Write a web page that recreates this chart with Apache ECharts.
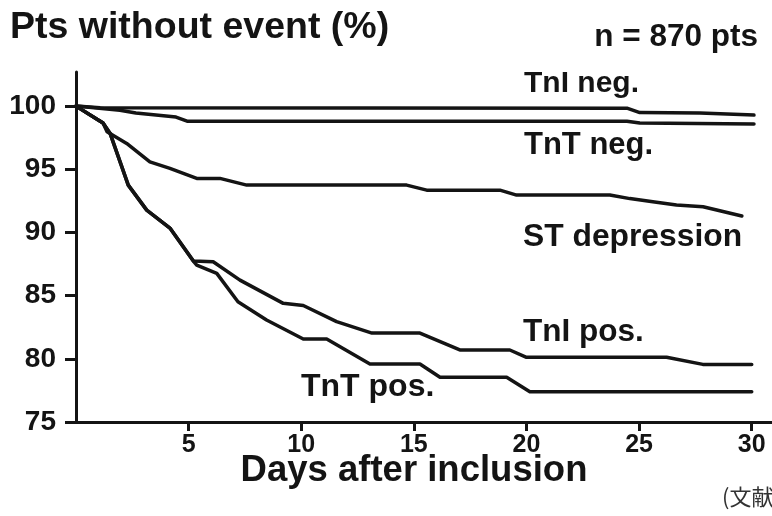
<!DOCTYPE html>
<html>
<head>
<meta charset="utf-8">
<script src="https://cdn.jsdelivr.net/npm/echarts@6/dist/echarts.min.js"></script>
<style>
html,body{margin:0;padding:0;background:#fff;}
#c{width:772px;height:516px;}
</style>
</head>
<body>
<div id="c"></div>
<script>
// ---- data (days after inclusion, % patients without event) ----
var tniNegDays = [0, 1.07, 24.46, 25.03, 27.7, 30.1];
var tniNegVals = [100, 99.88, 99.84, 99.49, 99.45, 99.29];

var tntNegDays = [0, 1.95, 2.66, 4.44, 4.93, 24.46, 25.03, 30.1];
var tntNegVals = [100, 99.68, 99.45, 99.13, 98.81, 98.81, 98.66, 98.58];

var stDays = [0, 1.20, 1.38, 2.25, 3.28, 4.17, 5.36, 6.39, 7.58, 14.68, 15.57, 18.82, 19.56, 23.70, 24.59, 25.61, 26.66, 27.84, 29.56];
var stVals = [100, 98.66, 97.98, 97.05, 95.59, 95.07, 94.28, 94.28, 93.75, 93.75, 93.35, 93.35, 92.96, 92.96, 92.68, 92.43, 92.17, 92.03, 91.30];

var tniPosDays = [0, 1.20, 1.51, 2.32, 3.14, 4.17, 5.21, 6.09, 7.28, 9.20, 10.09, 11.57, 13.14, 15.27, 17.04, 19.26, 20.00, 26.22, 27.83, 30.0];
var tniPosVals = [100, 98.66, 97.86, 93.75, 91.77, 90.35, 87.74, 87.68, 86.23, 84.39, 84.22, 82.94, 82.04, 82.04, 80.70, 80.70, 80.12, 80.12, 79.56, 79.56];

var tntPosDays = [0, 1.20, 1.51, 2.32, 3.14, 4.17, 5.21, 5.36, 6.25, 7.19, 8.46, 10.09, 11.13, 13.05, 15.27, 16.16, 19.12, 20.15, 30.0];
var tntPosVals = [100, 98.66, 97.86, 93.75, 91.77, 90.35, 87.74, 87.42, 86.76, 84.52, 83.07, 81.57, 81.57, 79.59, 79.59, 78.54, 78.54, 77.40, 77.40];

var xTicks = [5, 10, 15, 20, 25, 30];
var yTicks = [75, 80, 85, 90, 95, 100];

var seriesNames = ['TnI neg.', 'TnT neg.', 'ST depression', 'TnI pos.', 'TnT pos.'];

function pairs(d, v) { return d.map(function (x, i) { return [x, v[i]]; }); }

var FONT = '"Liberation Sans", Arial, sans-serif';
var INK = '#141414';

var chart = echarts.init(document.getElementById('c'), null, { renderer: 'canvas' });

var lineSeries = [
  pairs(tniNegDays, tniNegVals),
  pairs(tntNegDays, tntNegVals),
  pairs(stDays, stVals),
  pairs(tniPosDays, tniPosVals),
  pairs(tntPosDays, tntPosVals)
].map(function (data, i) {
  return {
    name: seriesNames[i],
    type: 'line',
    data: data,
    showSymbol: false,
    symbol: 'none',
    smooth: false,
    animation: false,
    lineStyle: { color: INK, width: 3.5, join: 'round', cap: 'round' },
    z: 3
  };
});

function txt(text, x, y, size, align) {
  return {
    type: 'text',
    x: x, y: y,
    style: {
      text: text,
      fill: INK,
      font: 'bold ' + size + 'px ' + FONT,
      textAlign: align || 'left',
      textVerticalAlign: 'middle'
    },
    z: 10
  };
}

chart.setOption({
  backgroundColor: '#ffffff',
  animation: false,
  grid: { left: 76, right: 0, top: 72, bottom: 94, containLabel: false },
  xAxis: {
    type: 'value',
    min: 0, max: 30.9, interval: 5,
    axisLine: { show: true, onZero: false, lineStyle: { color: INK, width: 3 } },
    axisTick: { show: true, length: 9, inside: false, customValues: xTicks, lineStyle: { color: INK, width: 3 } },
    axisLabel: {
      show: true, margin: 11, customValues: xTicks,
      color: INK, fontSize: 25, fontWeight: 'bold', fontFamily: FONT
    },
    splitLine: { show: false }
  },
  yAxis: {
    type: 'value',
    min: 75, max: 102.7, interval: 5,
    axisLine: { show: true, onZero: false, lineStyle: { color: INK, width: 3 } },
    axisTick: { show: true, length: 11, inside: false, customValues: yTicks, lineStyle: { color: INK, width: 3 } },
    axisLabel: {
      show: true, margin: 20, customValues: yTicks,
      color: INK, fontSize: 28, fontWeight: 'bold', fontFamily: FONT
    },
    splitLine: { show: false }
  },
  series: lineSeries,
  graphic: [
    txt('Pts without event (%)', 10, 28, 37.5),
    txt('n = 870 pts', 758, 37, 31.5, 'right'),
    txt(seriesNames[0], 524, 84, 30),
    txt(seriesNames[1], 524, 145, 31),
    txt(seriesNames[2], 523, 237, 31.8),
    txt(seriesNames[3], 523, 332, 31.5),
    txt(seriesNames[4], 301, 387, 32),
    txt('Days after inclusion', 414, 471, 36.5, 'center'),
    {
      type: 'text', x: 722, y: 497,
      style: { text: '(文献', fill: '#333', font: '22px "Noto Sans CJK JP", sans-serif', textAlign: 'left', textVerticalAlign: 'middle' },
      z: 10
    }
  ]
});
</script>
</body>
</html>
